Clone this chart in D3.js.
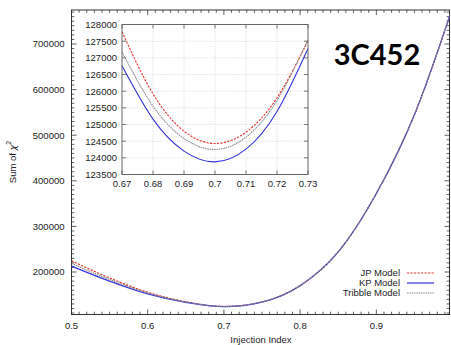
<!DOCTYPE html>
<html lang="en">
<head>
<meta charset="UTF-8">
<title>3C452 - Sum of chi2</title>
<script src="https://d3js.org/d3.v7.min.js"></script>
<style>
  body { margin: 0; background: #fff; }
  svg { display: block; font-family: "Liberation Sans", Arial, sans-serif; }
  .tick-label { font-size: 9.5px; fill: #222; }
</style>
</head>
<body>
<svg id="chart" width="451" height="345"></svg>
<script>
// Main plot data (injection index vs sum of chi^2)
const mainIdx = [0.50, 0.55, 0.60, 0.65, 0.70, 0.75, 0.80, 0.85, 0.90, 0.95, 1.00];
const mainJP = [224500, 187000, 155500, 134800, 124400, 134400, 170300, 244300, 372300, 545300, 780300];
const mainKP = [213000, 180000, 152000, 133500, 123900, 134000, 170000, 244000, 372000, 545000, 780000];
const mainTribble = [219000, 183500, 154000, 134300, 124250, 134500, 170400, 244400, 372400, 545400, 780400];

// Inset (zoom around the minimum)
const insetIdx = [0.67, 0.68, 0.69, 0.70, 0.71, 0.72, 0.73];
const insetJP = [127780, 125920, 124800, 124430, 124770, 125800, 127510];
const insetKP = [126760, 125160, 124200, 123880, 124260, 125390, 127280];
const insetTribble = [127180, 125550, 124580, 124250, 124620, 125720, 127550];

const mainXTicks = [0.5, 0.6, 0.7, 0.8, 0.9];
const mainYTicks = [200000, 300000, 400000, 500000, 600000, 700000];
const insetXTicks = [0.67, 0.68, 0.69, 0.70, 0.71, 0.72, 0.73];
const insetYTicks = [123500, 124000, 124500, 125000, 125500, 126000, 126500, 127000, 127500, 128000];

const models = [
  { name: "JP Model", main: mainJP, inset: insetJP, color: "#e8302a", dash: "2.2,1.3" },
  { name: "KP Model", main: mainKP, inset: insetKP, color: "#3434d8", dash: null },
  { name: "Tribble Model", main: mainTribble, inset: insetTribble, color: "#8a8a8a", dash: "1.5,0.8" }
];

const svg = d3.select("#chart");

// ---------- main plot ----------
const x = d3.scaleLinear().domain([0.5, 0.996]).range([71.5, 449.5]);
const y = d3.scaleLinear().domain([106800, 774600]).range([314.5, 10]);

svg.append("defs").append("clipPath").attr("id", "mainClip")
  .append("rect")
  .attr("x", x.range()[0]).attr("y", y.range()[1])
  .attr("width", x.range()[1] - x.range()[0])
  .attr("height", y.range()[0] - y.range()[1]);

const frameColor = "#333";

// minor + major ticks, mirrored on all sides
const xMinor = d3.range(50, 100).map(d => d / 100);
const yMinor = d3.range(11, 78).map(d => d * 10000);
const ticks = svg.append("g").attr("stroke", frameColor).attr("stroke-width", 0.8);

xMinor.forEach(v => {
  const major = mainXTicks.some(t => Math.abs(t - v) < 1e-9);
  const len = major ? 5 : 2.8;
  ticks.append("line").attr("x1", x(v)).attr("x2", x(v))
    .attr("y1", y.range()[0]).attr("y2", y.range()[0] - len);
  ticks.append("line").attr("x1", x(v)).attr("x2", x(v))
    .attr("y1", y.range()[1]).attr("y2", y.range()[1] + len);
});
yMinor.forEach(v => {
  const major = mainYTicks.includes(v);
  const len = major ? 5 : 2.8;
  ticks.append("line").attr("y1", y(v)).attr("y2", y(v))
    .attr("x1", x.range()[0]).attr("x2", x.range()[0] + len);
  ticks.append("line").attr("y1", y(v)).attr("y2", y(v))
    .attr("x1", x.range()[1]).attr("x2", x.range()[1] - len);
});

svg.append("rect")
  .attr("x", x.range()[0]).attr("y", y.range()[1])
  .attr("width", x.range()[1] - x.range()[0])
  .attr("height", y.range()[0] - y.range()[1])
  .attr("fill", "none").attr("stroke", frameColor).attr("stroke-width", 1);

svg.selectAll(".xlab").data(mainXTicks).enter().append("text")
  .attr("class", "tick-label")
  .attr("x", d => x(d)).attr("y", 328.5)
  .attr("text-anchor", "middle")
  .text(d => d3.format(".1f")(d));

svg.selectAll(".ylab").data(mainYTicks).enter().append("text")
  .attr("class", "tick-label")
  .attr("x", 64.5).attr("y", d => y(d) + 3.4)
  .attr("text-anchor", "end")
  .text(d => d);

svg.append("text")
  .attr("x", 261).attr("y", 343)
  .attr("text-anchor", "middle")
  .attr("font-size", "9.5px").attr("fill", "#222")
  .text("Injection Index");

const ylab = svg.append("text")
  .attr("transform", "translate(16,162) rotate(-90)")
  .attr("text-anchor", "middle")
  .attr("font-size", "9.5px").attr("fill", "#222");
ylab.append("tspan").text("Sum of ");
ylab.append("tspan").attr("font-family", "DejaVu Sans").attr("font-style", "italic").text("χ");
ylab.append("tspan").attr("font-size", "7px").attr("dy", -5).text("2");

const mainLine = d3.line()
  .x((d, i) => x(mainIdx[i]))
  .y(d => y(d))
  .curve(d3.curveMonotoneX);

const mainG = svg.append("g").attr("clip-path", "url(#mainClip)");
models.forEach(m => {
  mainG.append("path")
    .datum(m.main)
    .attr("d", mainLine)
    .attr("fill", "none")
    .attr("stroke", m.color)
    .attr("stroke-width", 1.2)
    .attr("stroke-dasharray", m.dash);
});

// legend
const legend = svg.append("g");
models.forEach((m, i) => {
  const ly = 273 + i * 10;
  legend.append("text")
    .attr("x", 400).attr("y", ly + 3.4)
    .attr("text-anchor", "end")
    .attr("font-size", "9.5px").attr("fill", "#222")
    .text(m.name);
  legend.append("line")
    .attr("x1", 407).attr("x2", 434).attr("y1", ly).attr("y2", ly)
    .attr("stroke", m.color).attr("stroke-width", 1.2)
    .attr("stroke-dasharray", m.dash);
});

// title
svg.append("text")
  .attr("x", 377).attr("y", 65)
  .attr("text-anchor", "middle")
  .attr("font-family", "Lato, 'Open Sans', sans-serif")
  .attr("font-weight", "bold")
  .attr("font-size", "29px")
  .attr("fill", "#000")
  .text("3C452");

// ---------- inset ----------
const ix = d3.scaleLinear().domain([0.67, 0.73]).range([122, 308]);
const iy = d3.scaleLinear().domain([123500, 128000]).range([174.5, 24.5]);

const inset = svg.append("g");
inset.append("rect")
  .attr("x", ix.range()[0]).attr("y", iy.range()[1])
  .attr("width", ix.range()[1] - ix.range()[0])
  .attr("height", iy.range()[0] - iy.range()[1])
  .attr("fill", "#fff");

// grid
const grid = inset.append("g").attr("stroke", "#c8c8c8").attr("stroke-width", 0.7)
  .attr("stroke-dasharray", "1,1.5");
insetXTicks.slice(1, -1).forEach(v => {
  grid.append("line").attr("x1", ix(v)).attr("x2", ix(v))
    .attr("y1", iy.range()[0]).attr("y2", iy.range()[1]);
});
insetYTicks.slice(1, -1).forEach(v => {
  grid.append("line").attr("y1", iy(v)).attr("y2", iy(v))
    .attr("x1", ix.range()[0]).attr("x2", ix.range()[1]);
});

const iticks = inset.append("g").attr("stroke", "#555").attr("stroke-width", 0.8);
insetXTicks.forEach(v => {
  iticks.append("line").attr("x1", ix(v)).attr("x2", ix(v))
    .attr("y1", iy.range()[0]).attr("y2", iy.range()[0] - 4);
  iticks.append("line").attr("x1", ix(v)).attr("x2", ix(v))
    .attr("y1", iy.range()[1]).attr("y2", iy.range()[1] + 4);
});
insetYTicks.forEach(v => {
  iticks.append("line").attr("y1", iy(v)).attr("y2", iy(v))
    .attr("x1", ix.range()[0]).attr("x2", ix.range()[0] + 4);
  iticks.append("line").attr("y1", iy(v)).attr("y2", iy(v))
    .attr("x1", ix.range()[1]).attr("x2", ix.range()[1] - 4);
});

const insetLine = d3.line()
  .x((d, i) => ix(insetIdx[i]))
  .y(d => iy(d))
  .curve(d3.curveNatural);

models.forEach(m => {
  inset.append("path")
    .datum(m.inset)
    .attr("d", insetLine)
    .attr("fill", "none")
    .attr("stroke", m.color)
    .attr("stroke-width", 1.1)
    .attr("stroke-dasharray", m.dash);
});

inset.append("rect")
  .attr("x", ix.range()[0]).attr("y", iy.range()[1])
  .attr("width", ix.range()[1] - ix.range()[0])
  .attr("height", iy.range()[0] - iy.range()[1])
  .attr("fill", "none").attr("stroke", "#666").attr("stroke-width", 1);

inset.selectAll(".ixlab").data(insetXTicks).enter().append("text")
  .attr("class", "tick-label")
  .attr("x", d => ix(d)).attr("y", 187)
  .attr("text-anchor", "middle")
  .text(d => d3.format("~g")(d));

inset.selectAll(".iylab").data(insetYTicks).enter().append("text")
  .attr("class", "tick-label")
  .attr("x", 117).attr("y", d => iy(d) + 3.4)
  .attr("text-anchor", "end")
  .text(d => d);
</script>
</body>
</html>
